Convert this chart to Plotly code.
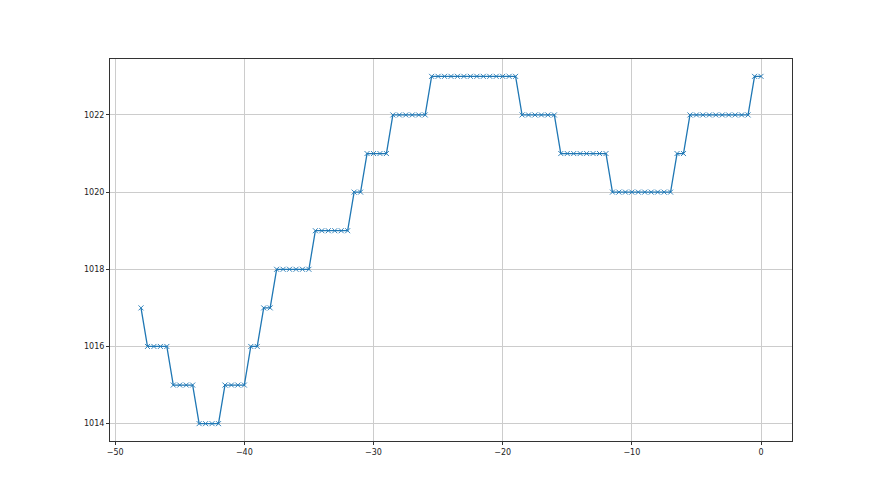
import plotly.graph_objects as go

# Level segments: (pressure value, number of consecutive half-unit samples)
levels = [1017, 1016, 1015, 1014, 1015, 1016, 1017, 1018, 1019, 1020,
          1021, 1022, 1023, 1022, 1021, 1020, 1021, 1022, 1023]
counts = [1, 4, 4, 4, 4, 2, 2, 6, 6, 2,
          4, 6, 14, 6, 8, 10, 2, 10, 2]

y_values = []
for lv, c in zip(levels, counts):
    y_values += [lv] * c
x_values = [-48 + 0.5 * i for i in range(len(y_values))]

x_ticks = [-50, -40, -30, -20, -10, 0]
y_ticks = [1014, 1016, 1018, 1020, 1022]

fig = go.Figure()
fig.add_trace(go.Scatter(
    x=x_values, y=y_values, mode="lines+markers",
    line=dict(color="#1f77b4", width=1.3),
    marker=dict(symbol="x-thin", size=5, color="#1f77b4",
                line=dict(width=0.9, color="#1f77b4")),
    showlegend=False,
))

axis_common = dict(
    showline=True, linecolor="#333333", linewidth=1, mirror=True,
    showgrid=True, gridcolor="#cccccc", gridwidth=1,
    zeroline=False, ticks="outside", ticklen=3, tickwidth=1, tickcolor="#333333",
    tickfont=dict(family="DejaVu Sans", size=8, color="#222222"),
)

fig.update_layout(
    width=880, height=495,
    margin=dict(l=102, r=96, t=51, b=62),
    paper_bgcolor="white", plot_bgcolor="white",
    xaxis=dict(range=[-50.4, 2.4], tickvals=x_ticks, **axis_common),
    yaxis=dict(range=[1013.55, 1023.45], tickvals=y_ticks, **axis_common),
)

fig.write_html("out.html")
